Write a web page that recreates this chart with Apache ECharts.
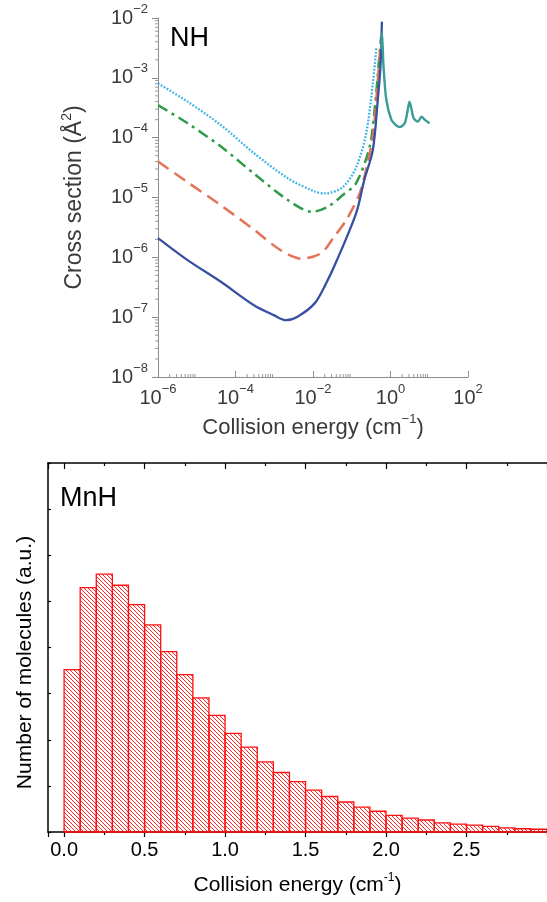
<!DOCTYPE html>
<html>
<head>
<meta charset="utf-8">
<script src="https://cdn.jsdelivr.net/npm/echarts@6/dist/echarts.min.js"></script>
<style>
html, body { margin: 0; padding: 0; background: #fff; }
#chart { width: 547px; height: 902px; }
</style>
</head>
<body>
<div id="chart"></div>
<script>
// ---- NH: elastic cross section (Å^2) vs collision energy (cm^-1) ----
const nhBlueE  = [1e-6, 5.8e-6, 4.2e-5, 3.0e-4, 1.0e-3, 2.0e-3, 4.0e-3, 1.1e-2, 2.1e-2, 4.0e-2, 0.13, 0.21, 0.35, 0.47, 0.55, 0.60];
const nhBlueS  = [2.1e-6, 9.0e-7, 3.9e-7, 1.58e-7, 1.07e-7, 8.9e-8, 1.02e-7, 1.7e-7, 3.5e-7, 8.5e-7, 5.5e-6, 1.95e-5, 6.2e-5, 4.3e-4, 1.55e-3, 8.7e-3];

const nhRedE   = [1e-6, 5.8e-6, 4.2e-5, 3.0e-4, 1.5e-3, 5.0e-3, 1.6e-2, 3.5e-2, 7.2e-2, 0.16, 0.25, 0.355, 0.43, 0.52, 0.575];
const nhRedS   = [4.0e-5, 1.8e-5, 7.4e-6, 2.9e-6, 1.3e-6, 9.5e-7, 1.17e-6, 2.2e-6, 4.2e-6, 1.17e-5, 3.5e-5, 1.1e-4, 4.3e-4, 2.2e-3, 4.5e-3];

const nhGreenE = [1e-6, 5.8e-6, 4.2e-5, 3.0e-4, 2.24e-3, 9.3e-3, 2.5e-2, 5.9e-2, 0.13, 0.29, 0.40, 0.50, 0.575];
const nhGreenS = [3.5e-4, 1.74e-4, 7.1e-5, 2.5e-5, 9.1e-6, 5.75e-6, 7.1e-6, 1.1e-5, 1.74e-5, 7.1e-5, 3.5e-4, 1.8e-3, 4.9e-3];

const nhCyanE  = [1e-6, 5.8e-6, 4.2e-5, 3.0e-4, 2.24e-3, 1.1e-2, 2.1e-2, 5.9e-2, 0.13, 0.235, 0.35, 0.43];
const nhCyanS  = [8.1e-4, 4.0e-4, 1.62e-4, 5.5e-5, 2.1e-5, 1.26e-5, 1.17e-5, 1.5e-5, 3.2e-5, 1.17e-4, 8.1e-4, 3.1e-3];

// common high-energy part with shape resonances
const nhTealE  = [0.575, 0.60, 0.63, 0.66, 0.78, 1.05, 1.41, 1.72, 2.32, 2.75, 3.09, 3.55, 3.98, 5.13, 6.31, 7.59, 10.2];
const nhTealS  = [3.0e-3, 5.6e-3, 3.2e-3, 1.55e-3, 4.3e-4, 2.0e-4, 1.6e-4, 1.5e-4, 1.74e-4, 2.8e-4, 4.0e-4, 2.8e-4, 2.1e-4, 1.86e-4, 2.24e-4, 2.0e-4, 1.74e-4];

// ---- MnH: collision energy distribution (histogram) ----
const mnhBinLo = [0.0, 0.1, 0.2, 0.3, 0.4, 0.5, 0.6, 0.7, 0.8, 0.9, 1.0, 1.1, 1.2, 1.3, 1.4, 1.5, 1.6, 1.7, 1.8, 1.9, 2.0, 2.1, 2.2, 2.3, 2.4, 2.5, 2.6, 2.7, 2.8, 2.9];
const mnhBinHi = [0.1, 0.2, 0.3, 0.4, 0.5, 0.6, 0.7, 0.8, 0.9, 1.0, 1.1, 1.2, 1.3, 1.4, 1.5, 1.6, 1.7, 1.8, 1.9, 2.0, 2.1, 2.2, 2.3, 2.4, 2.5, 2.6, 2.7, 2.8, 2.9, 3.0];
const mnhCounts = [3.52, 5.30, 5.59, 5.35, 4.93, 4.49, 3.91, 3.41, 2.91, 2.53, 2.14, 1.84, 1.52, 1.29, 1.09, 0.91, 0.77, 0.65, 0.54, 0.45, 0.36, 0.30, 0.26, 0.20, 0.17, 0.15, 0.12, 0.09, 0.07, 0.06];

// decades that carry logarithmic minor ticks (2..9 x 10^n)
const nhMinorDecadesX = [-6, -4, -2, 0];
const nhMinorDecadesY = [-8, -7, -6, -5, -4, -3];

const FONT = '"Liberation Sans", Arial, Helvetica, sans-serif';
const GREY_TXT = '#3a3a3a';
const GREY_AX = '#8c8c8c';

function zip(a, b) { return a.map((v, i) => [v, b[i]]); }

function minorValues(decades) {
  const out = [];
  decades.forEach(n => { for (let k = 2; k <= 9; k++) out.push(k * Math.pow(10, n)); });
  return out;
}

// red "\\\" hatch used to fill the histogram bars
function makeHatch() {
  const c = document.createElement('canvas');
  c.width = 4; c.height = 4;
  const g = c.getContext('2d');
  g.fillStyle = '#ff2a2a';
  for (let i = 0; i < 4; i++) g.fillRect(i, i, 1, 1);
  return c;
}
const hatch = makeHatch();

const sup = { fontSize: 13, fontFamily: FONT, color: GREY_TXT, padding: [0, 0, 18, 0] };
function powLabel(v) {
  const e = Math.round(Math.log10(v));
  return '{b|10}{s|' + (e < 0 ? '\u2212' + (-e) : e) + '}';
}

const chart = echarts.init(document.getElementById('chart'), null, { renderer: 'canvas' });

const option = {
  backgroundColor: '#fff',
  animation: false,
  title: [
    { text: 'NH', left: 165, top: 20, textStyle: { fontSize: 27, fontWeight: 'normal', color: '#000', fontFamily: FONT } },
    { text: 'MnH', left: 55, top: 480, textStyle: { fontSize: 27, fontWeight: 'normal', color: '#000', fontFamily: FONT } }
  ],
  grid: [
    { left: 158, top: 18, width: 310, height: 359 },
    { left: 48, top: 463, width: 502, height: 369 }
  ],
  xAxis: [
    {
      gridIndex: 0, type: 'log', logBase: 10, min: 1e-6, max: 100, interval: 2,
      axisLine: { lineStyle: { color: GREY_AX, width: 1 } },
      axisTick: { inside: true, length: 6, lineStyle: { color: GREY_AX } },
      minorTick: { show: false },
      splitLine: { show: false },
      axisLabel: {
        margin: 6, formatter: powLabel,
        rich: { b: { fontSize: 20, fontFamily: FONT, color: GREY_TXT }, s: sup }
      },
      name: 'Collision energy (cm{s|\u22121})', nameLocation: 'middle', nameGap: 36,
      nameTextStyle: { fontSize: 22, fontFamily: FONT, color: GREY_TXT,
        rich: { s: { fontSize: 13, fontFamily: FONT, color: GREY_TXT, padding: [0, 0, 16, 0] } } }
    },
    {
      gridIndex: 1, type: 'value', min: -0.1, max: 3.0, minInterval: 0.5, maxInterval: 0.5,
      axisLine: { onZero: false, lineStyle: { color: '#000', width: 1.5 } },
      axisTick: { length: 5, lineStyle: { color: '#000', width: 1.2 } },
      minorTick: { show: true, splitNumber: 2, length: 3, lineStyle: { color: '#000', width: 1.2 } },
      splitLine: { show: false },
      axisLabel: { showMinLabel: false, showMaxLabel: false, margin: 8, fontSize: 20, fontFamily: FONT, color: '#000',
        formatter: v => v.toFixed(1) },
      name: 'Collision energy (cm{s|-1})', nameLocation: 'middle', nameGap: 40,
      nameTextStyle: { fontSize: 21, fontFamily: FONT, color: '#000',
        rich: { s: { fontSize: 12, fontFamily: FONT, color: '#000', padding: [0, 0, 14, 0] } } }
    },
    {
      gridIndex: 1, type: 'value', position: 'top', min: -0.1, max: 3.0, minInterval: 0.5, maxInterval: 0.5,
      axisLine: { onZero: false, lineStyle: { color: '#000', width: 1.5 } },
      axisTick: { inside: true, length: 6, lineStyle: { color: '#000', width: 1.2 } },
      minorTick: { show: true, splitNumber: 2, length: 3, lineStyle: { color: '#000', width: 1.2 } },
      splitLine: { show: false },
      axisLabel: { show: false }
    }
  ],
  yAxis: [
    {
      gridIndex: 0, type: 'log', logBase: 10, min: 1e-8, max: 1e-2, interval: 1,
      axisLine: { lineStyle: { color: GREY_AX, width: 1 } },
      axisTick: { length: 6, lineStyle: { color: GREY_AX } },
      minorTick: { show: false },
      splitLine: { show: false },
      axisLabel: {
        margin: 10, formatter: powLabel,
        rich: { b: { fontSize: 20, fontFamily: FONT, color: GREY_TXT }, s: sup }
      },
      name: '{t|Cross section (\u00c5}{s|2}{t|)}', nameLocation: 'middle', nameGap: 68,
      nameTextStyle: { color: GREY_TXT,
        rich: {
          t: { fontSize: 23, fontFamily: FONT, color: GREY_TXT },
          s: { fontSize: 14, fontFamily: FONT, color: GREY_TXT, padding: [0, 0, 16, 0] }
        } }
    },
    {
      gridIndex: 1, type: 'value', min: 0, max: 8, interval: 1,
      axisLine: { onZero: false, lineStyle: { color: '#000', width: 1.5 } },
      axisTick: { inside: true, length: 3, lineStyle: { color: '#000', width: 1.2 } },
      splitLine: { show: false },
      axisLabel: { show: false },
      name: 'Number of molecules (a.u.)', nameLocation: 'middle', nameGap: 12,
      nameTextStyle: { fontSize: 21, fontFamily: FONT, color: '#000', padding: [0, 30, 0, 0] }
    }
  ],
  series: [
    { type: 'line', xAxisIndex: 0, yAxisIndex: 0, data: zip(nhCyanE, nhCyanS), showSymbol: false, smooth: 0.3,
      lineStyle: { color: '#3ab4e4', width: 2.3, type: [1.8, 1.6] } },
    { type: 'line', xAxisIndex: 0, yAxisIndex: 0, data: zip(nhGreenE, nhGreenS), showSymbol: false, smooth: 0.3,
      lineStyle: { color: '#2f9b4b', width: 2.5, type: [11, 5, 3, 5] } },
    { type: 'line', xAxisIndex: 0, yAxisIndex: 0, data: zip(nhRedE, nhRedS), showSymbol: false, smooth: 0.3,
      lineStyle: { color: '#e27359', width: 2.5, type: [13, 7] } },
    { type: 'line', xAxisIndex: 0, yAxisIndex: 0, data: zip(nhBlueE, nhBlueS), showSymbol: false, smooth: 0.3,
      lineStyle: { color: '#3650a2', width: 2.3 } },
    { type: 'line', xAxisIndex: 0, yAxisIndex: 0, data: zip(nhTealE, nhTealS), showSymbol: false, smooth: 0.3,
      lineStyle: { color: '#3a9c98', width: 2.4 } },
    // logarithmic minor ticks along the NH axes
    {
      type: 'custom', xAxisIndex: 0, yAxisIndex: 0, silent: true, clip: false,
      data: minorValues(nhMinorDecadesX).map(v => [v, 1e-8]),
      renderItem: function (params, api) {
        const p = api.coord([api.value(0), api.value(1)]);
        return { type: 'line', shape: { x1: p[0], y1: p[1], x2: p[0], y2: p[1] - 3 },
          style: { stroke: '#9a9a9a', lineWidth: 1 } };
      }
    },
    {
      type: 'custom', xAxisIndex: 0, yAxisIndex: 0, silent: true, clip: false,
      data: minorValues(nhMinorDecadesY).map(v => [1e-6, v]),
      renderItem: function (params, api) {
        const p = api.coord([api.value(0), api.value(1)]);
        return { type: 'line', shape: { x1: p[0] - 3, y1: p[1], x2: p[0], y2: p[1] },
          style: { stroke: '#9a9a9a', lineWidth: 1 } };
      }
    },
    {
      type: 'custom', xAxisIndex: 1, yAxisIndex: 1,
      data: mnhBinLo.map((lo, i) => [lo, mnhBinHi[i], mnhCounts[i]]),
      encode: { x: [0, 1], y: 2 },
      renderItem: function (params, api) {
        const topLeft = api.coord([api.value(0), api.value(2)]);
        const bottomRight = api.coord([api.value(1), 0]);
        return {
          type: 'rect',
          shape: { x: topLeft[0], y: topLeft[1], width: bottomRight[0] - topLeft[0], height: bottomRight[1] - topLeft[1] },
          style: { fill: { image: hatch, repeat: 'repeat' }, stroke: '#ff1010', lineWidth: 1.3 }
        };
      }
    }
  ]
};
chart.setOption(option);
</script>
</body>
</html>
